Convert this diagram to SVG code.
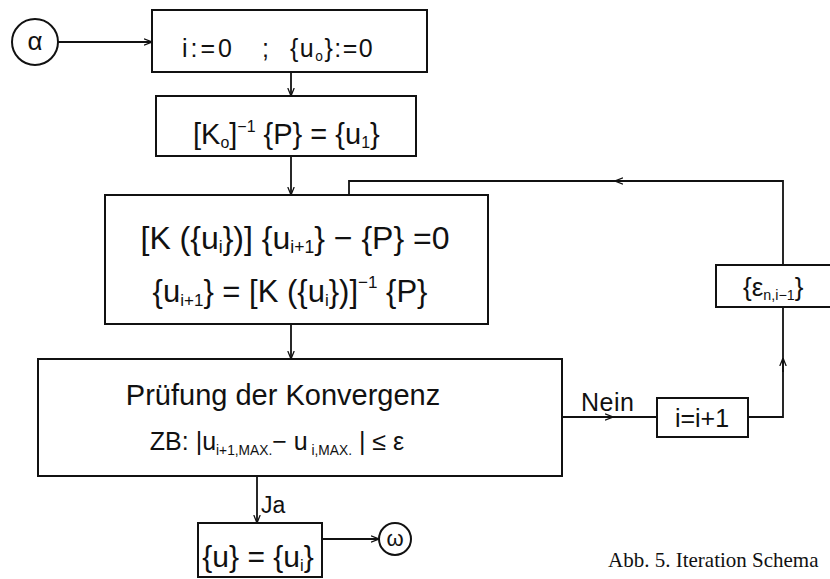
<svg xmlns="http://www.w3.org/2000/svg" width="830" height="579" viewBox="0 0 830 579">
<defs>
<style>
.b{fill:#fff;stroke:#111;stroke-width:2}
.l{fill:none;stroke:#111;stroke-width:1.8}
.t{font-family:"Liberation Sans","DejaVu Sans",sans-serif;fill:#111}
.s{font-size:0.55em}
.cap{font-family:"Liberation Serif","Times New Roman",serif;font-size:21px;fill:#111}
</style>
<marker id="ah" viewBox="0 0 10 10" refX="10" refY="5" markerWidth="8" markerHeight="8" orient="auto" markerUnits="userSpaceOnUse"><path d="M0,1 L10,5 L0,9" fill="none" stroke="#111" stroke-width="1.6"/></marker>
</defs>
<rect width="830" height="579" fill="#fff"/>

<g id="connectors">
<line class="l" x1="58" y1="42" x2="152" y2="42" marker-end="url(#ah)"/>
<line class="l" x1="291" y1="72" x2="291" y2="96" marker-end="url(#ah)"/>
<line class="l" x1="291" y1="156" x2="291" y2="195" marker-end="url(#ah)"/>
<line class="l" x1="291" y1="324" x2="291" y2="359" marker-end="url(#ah)"/>
<line class="l" x1="562" y1="417" x2="657" y2="417"/>
<path class="l" d="M598,417 L613,417" marker-end="url(#ah)"/>
<path class="l" d="M748,417 L783,417 L783,307"/>
<path class="l" d="M783,372 L783,358" marker-end="url(#ah)"/>
<path class="l" d="M783,265 L783,181 L349,181 L349,195"/>
<path class="l" d="M632,181 L615,181" marker-end="url(#ah)"/>
<line class="l" x1="257" y1="476" x2="257" y2="523" marker-end="url(#ah)"/>
<line class="l" x1="322" y1="539" x2="379" y2="539" marker-end="url(#ah)"/>
<text class="t" x="581" y="411" font-size="25" letter-spacing="0.5">Nein</text>
<text class="t" x="261" y="513" font-size="23">Ja</text>
</g>

<g id="start">
<circle cx="35" cy="42" r="23" fill="#fff" stroke="#111" stroke-width="2"/>
<text class="t" x="35" y="50" font-size="26" text-anchor="middle">α</text>
</g>

<g id="init">
<rect class="b" x="152" y="10" width="275" height="62"/>
<text class="t" x="182" y="57" font-size="25" letter-spacing="3">i:=0</text>
<text class="t" x="262" y="57" font-size="25">;</text>
<text class="t" x="290" y="57" font-size="25" letter-spacing="1.5">{u<tspan class="s" dy="4">o</tspan><tspan dy="-4">}:=0</tspan></text>
</g>

<g id="first">
<rect class="b" x="156" y="96" width="260" height="60"/>
<text class="t" x="193" y="144" font-size="29">[K<tspan class="s" dy="4">o</tspan><tspan dy="-4">]</tspan><tspan class="s" dy="-12">−1</tspan><tspan dy="12"> {P} = {u</tspan><tspan class="s" dy="4">1</tspan><tspan dy="-4">}</tspan></text>
</g>

<g id="solve">
<rect class="b" x="105" y="195" width="383" height="129"/>
<text class="t" x="295" y="249" font-size="32" text-anchor="middle">[K ({u<tspan class="s" dy="4">i</tspan><tspan dy="-4">})]  {u</tspan><tspan class="s" dy="4">i+1</tspan><tspan dy="-4">} − {P} =0</tspan></text>
<text class="t" x="290" y="302" font-size="31" text-anchor="middle">{u<tspan class="s" dy="4">i+1</tspan><tspan dy="-4">} = [K  ({u</tspan><tspan class="s" dy="4">i</tspan><tspan dy="-4">})]</tspan><tspan class="s" dy="-14">−1</tspan><tspan dy="14"> {P}</tspan></text>
</g>

<g id="check">
<rect class="b" x="38" y="359" width="524" height="117"/>
<text class="t" x="283" y="405" font-size="29" text-anchor="middle">Prüfung der Konvergenz</text>
<text class="t" x="277" y="450" font-size="25" text-anchor="middle">ZB:  |u<tspan class="s" dy="5">i+1,MAX.</tspan><tspan dy="-5">− u</tspan><tspan class="s" dy="5"> i,MAX.</tspan><tspan dy="-5"> |  ≤  ε</tspan></text>
</g>

<g id="increment">
<rect class="b" x="657" y="398" width="91" height="39"/>
<text class="t" x="702" y="427" font-size="25" text-anchor="middle">i=i+1</text>
</g>

<g id="eps">
<rect class="b" x="716" y="265" width="124" height="42"/>
<text class="t" x="743" y="296" font-size="26">{ε<tspan class="s" dy="4">n,i−1</tspan><tspan dy="-4">}</tspan></text>
</g>

<g id="result">
<rect class="b" x="198" y="523" width="124" height="54"/>
<text class="t" x="258" y="567" font-size="30" text-anchor="middle">{u} = {u<tspan class="s" dy="4">i</tspan><tspan dy="-4">}</tspan></text>
</g>

<g id="end">
<circle cx="395" cy="539" r="16" fill="#fff" stroke="#111" stroke-width="2"/>
<text class="t" x="395" y="546" font-size="22" text-anchor="middle">ω</text>
</g>

<text class="cap" x="608" y="567">Abb. 5. Iteration Schema</text>
</svg>
